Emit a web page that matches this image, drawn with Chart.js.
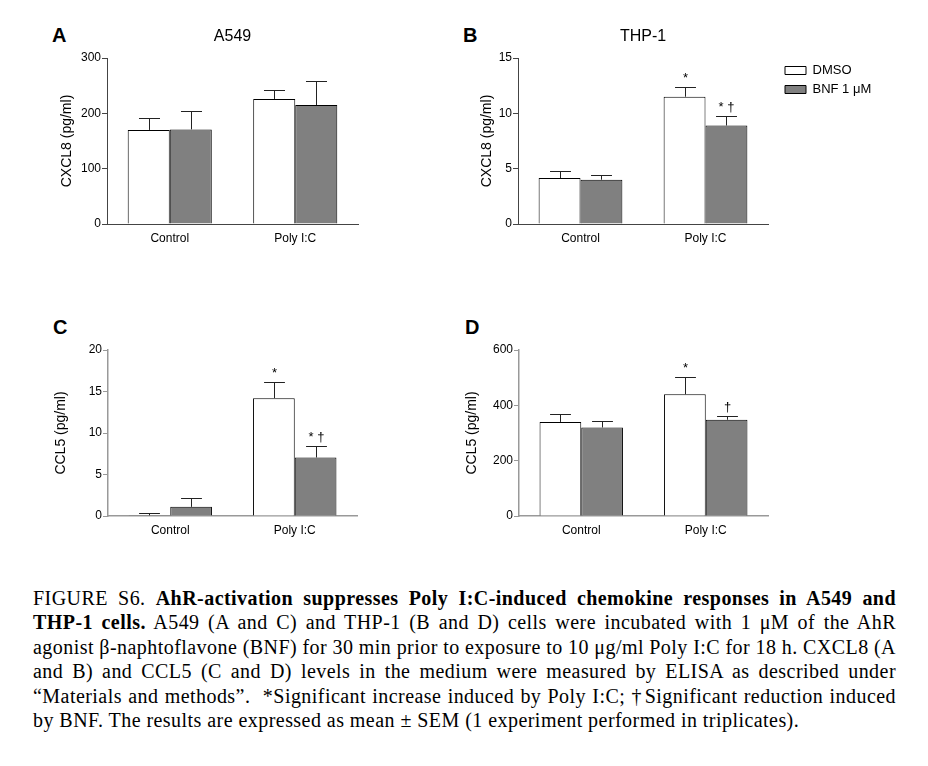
<!DOCTYPE html>
<html>
<head>
<meta charset="utf-8">
<script src="https://cdn.jsdelivr.net/npm/chart.js@4.4.1/dist/chart.umd.min.js"></script>
<style>
  body { margin: 0; background: #fff; }
  #page { position: relative; width: 928px; height: 766px; overflow: hidden; font-family: "Liberation Sans", Arial, sans-serif; }
  canvas { position: absolute; }
  .letter { position: absolute; font-weight: bold; font-size: 20px; line-height: 20px; color: #000; }
  .caption { position: absolute; left: 33px; top: 586px; width: 863px; font-family: "Liberation Serif", "Times New Roman", serif; font-size: 20px; letter-spacing: 0.45px; line-height: 24.4px; color: #000; }
  .caption div { text-align: justify; text-align-last: justify; word-spacing: -2px; }
  .caption div.last { text-align-last: left; word-spacing: 0; }
</style>
</head>
<body>
<div id="page">
  <div class="letter" style="left:52px;top:25px">A</div>
  <div class="letter" style="left:463px;top:25px">B</div>
  <div class="letter" style="left:53px;top:317px">C</div>
  <div class="letter" style="left:465px;top:317px">D</div>

  <canvas id="chartA" width="330" height="230" style="left:40px;top:20px"></canvas>
  <canvas id="chartB" width="470" height="230" style="left:450px;top:20px"></canvas>
  <canvas id="chartC" width="330" height="230" style="left:40px;top:312px"></canvas>
  <canvas id="chartD" width="330" height="230" style="left:450px;top:312px"></canvas>

  <div class="caption">
    <div>FIGURE S6. <b>AhR-activation suppresses Poly I:C-induced chemokine responses in A549 and</b></div>
    <div><b>THP-1 cells.</b> A549 (A and C) and THP-1 (B and D) cells were incubated with 1 μM of the AhR</div>
    <div>agonist β-naphtoflavone (BNF) for 30 min prior to exposure to 10 μg/ml Poly I:C for 18 h. CXCL8 (A</div>
    <div>and B) and CCL5 (C and D) levels in the medium were measured by ELISA as described under</div>
    <div>“Materials and methods”.&nbsp; *Significant increase induced by Poly I:C; †Significant reduction induced</div>
    <div class="last">by BNF. The results are expressed as mean ± SEM (1 experiment performed in triplicates).</div>
  </div>
</div>

<script>
// data (mean and SEM per group)
const categories = ['Control', 'Poly I:C'];
const seriesNames = ['DMSO', 'BNF 1 μM'];

const a549Cxcl8Dmso = [170, 226];
const a549Cxcl8DmsoSem = [22, 16];
const a549Cxcl8Bnf = [171, 215];
const a549Cxcl8BnfSem = [33, 43];

const thp1Cxcl8Dmso = [4.15, 11.5];
const thp1Cxcl8DmsoSem = [0.65, 0.9];
const thp1Cxcl8Bnf = [4.0, 8.9];
const thp1Cxcl8BnfSem = [0.4, 0.9];

const a549Ccl5Dmso = [0.08, 14.2];
const a549Ccl5DmsoSem = [0.27, 1.95];
const a549Ccl5Bnf = [1.1, 7.05];
const a549Ccl5BnfSem = [1.1, 1.35];

const thp1Ccl5Dmso = [340, 440];
const thp1Ccl5DmsoSem = [30, 63];
const thp1Ccl5Bnf = [320, 348];
const thp1Ccl5BnfSem = [22, 14];

// significance marks (* vs control, † vs DMSO)
const noMarks = ['', ''];
const marksDmso = ['', '*'];
const marksBnf = ['', '* †'];
const marksBnfD = ['', '†'];

const FONT = '"Liberation Sans", Arial, sans-serif';

const errorBars = {
  id: 'errorBars',
  afterDatasetsDraw(chart, args, opts) {
    const ctx = chart.ctx;
    const y = chart.scales.y;
    chart.data.datasets.forEach((ds, i) => {
      chart.getDatasetMeta(i).data.forEach((bar, j) => {
        const top = Math.round(y.getPixelForValue(ds.data[j] + ds.sem[j])) + 0.5;
        const x = Math.round(bar.x) + 0.5;
        const half = bar.width / 4;
        ctx.save();
        ctx.strokeStyle = opts.color || '#222';
        ctx.lineWidth = 1;
        ctx.beginPath();
        ctx.moveTo(x, bar.y);
        ctx.lineTo(x, top);
        ctx.moveTo(x - half, top);
        ctx.lineTo(x + half, top);
        ctx.stroke();
        const mark = ds.marks[j];
        if (mark) {
          ctx.fillStyle = '#000';
          ctx.font = '13px ' + FONT;
          ctx.textAlign = 'center';
          ctx.textBaseline = 'bottom';
          ctx.fillText(mark, x, top - 3);
        }
        ctx.restore();
      });
    });
  }
};

// put the legend a little right of the plot, like the original
const legendShift = {
  id: 'legendShift',
  afterLayout(chart, args, opts) {
    const lg = chart.legend;
    if (lg && lg.options.display) {
      lg.left = chart.chartArea.right + opts.dx;
      lg.right = lg.left + 140;
      lg.width = 140;
    }
  }
};

function makeChart(id, cfg) {
  const axisColor = cfg.axisColor;
  return new Chart(document.getElementById(id), {
    type: 'bar',
    data: {
      labels: categories,
      datasets: [{
        label: seriesNames[0],
        data: cfg.dmso,
        sem: cfg.dmsoSem,
        marks: cfg.dmsoMarks,
        backgroundColor: '#ffffff',
        borderColor: '#000000',
        borderWidth: 1
      }, {
        label: seriesNames[1],
        data: cfg.bnf,
        sem: cfg.bnfSem,
        marks: cfg.bnfMarks,
        backgroundColor: '#808080',
        borderColor: '#000000',
        borderWidth: 1
      }]
    },
    plugins: [errorBars, legendShift],
    options: {
      responsive: false,
      animation: false,
      devicePixelRatio: 1,
      categoryPercentage: 0.67,
      barPercentage: 1,
      layout: { padding: { top: cfg.title ? 0 : 38, right: cfg.padRight, left: 0, bottom: 0 } },
      plugins: {
        tooltip: { enabled: false },
        title: {
          display: !!cfg.title,
          text: cfg.title,
          fullSize: false,
          color: '#000',
          font: { family: FONT, size: 16, weight: 'normal' },
          padding: { top: 7, bottom: 11.8 }
        },
        legend: {
          display: !!cfg.legend,
          position: 'right',
          align: 'start',
          fullSize: false,
          maxWidth: 90,
          labels: {
            boxWidth: 21,
            boxHeight: 8,
            padding: 6,
            color: '#000',
            font: { family: FONT, size: 13 }
          }
        },
        legendShift: { dx: 11 },
        errorBars: { color: '#222' }
      },
      scales: {
        x: {
          afterFit: s => { s.height = 26; },
          grid: { display: false, drawTicks: false },
          border: { display: true, color: axisColor, width: cfg.axisWidth },
          ticks: { color: '#000', padding: 7, font: { family: FONT, size: 12 } }
        },
        y: {
          min: 0,
          max: cfg.max,
          afterFit: s => { s.width = cfg.yWidth; },
          grid: { drawOnChartArea: false, drawTicks: true, tickLength: 5, color: axisColor },
          border: { display: true, color: axisColor, width: cfg.axisWidth },
          ticks: { stepSize: cfg.step, color: '#000', padding: 1, font: { family: FONT, size: 12 } },
          title: {
            display: true,
            text: cfg.yTitle,
            color: '#000',
            font: { family: FONT, size: 14 },
            padding: { top: cfg.yTitlePad, bottom: 0 }
          }
        }
      }
    }
  });
}

makeChart('chartA', {
  title: 'A549', yTitle: 'CXCL8 (pg/ml)', max: 300, step: 100,
  dmso: a549Cxcl8Dmso, dmsoSem: a549Cxcl8DmsoSem, dmsoMarks: noMarks,
  bnf: a549Cxcl8Bnf, bnfSem: a549Cxcl8BnfSem, bnfMarks: noMarks,
  yWidth: 67, yTitlePad: 19, padRight: 12, axisColor: '#444', axisWidth: 1
});

makeChart('chartB', {
  title: 'THP-1', yTitle: 'CXCL8 (pg/ml)', max: 15, step: 5, legend: true,
  dmso: thp1Cxcl8Dmso, dmsoSem: thp1Cxcl8DmsoSem, dmsoMarks: marksDmso,
  bnf: thp1Cxcl8Bnf, bnfSem: thp1Cxcl8BnfSem, bnfMarks: marksBnf,
  yWidth: 68, yTitlePad: 29, padRight: 62, axisColor: '#444', axisWidth: 1
});

makeChart('chartC', {
  yTitle: 'CCL5 (pg/ml)', max: 20, step: 5,
  dmso: a549Ccl5Dmso, dmsoSem: a549Ccl5DmsoSem, dmsoMarks: marksDmso,
  bnf: a549Ccl5Bnf, bnfSem: a549Ccl5BnfSem, bnfMarks: marksBnf,
  yWidth: 68, yTitlePad: 12.6, padRight: 13, axisColor: '#999', axisWidth: 1.5
});

makeChart('chartD', {
  yTitle: 'CCL5 (pg/ml)', max: 600, step: 200,
  dmso: thp1Ccl5Dmso, dmsoSem: thp1Ccl5DmsoSem, dmsoMarks: marksDmso,
  bnf: thp1Ccl5Bnf, bnfSem: thp1Ccl5BnfSem, bnfMarks: marksBnfD,
  yWidth: 69, yTitlePad: 14, padRight: 12, axisColor: '#999', axisWidth: 1.5
});
</script>
</body>
</html>
